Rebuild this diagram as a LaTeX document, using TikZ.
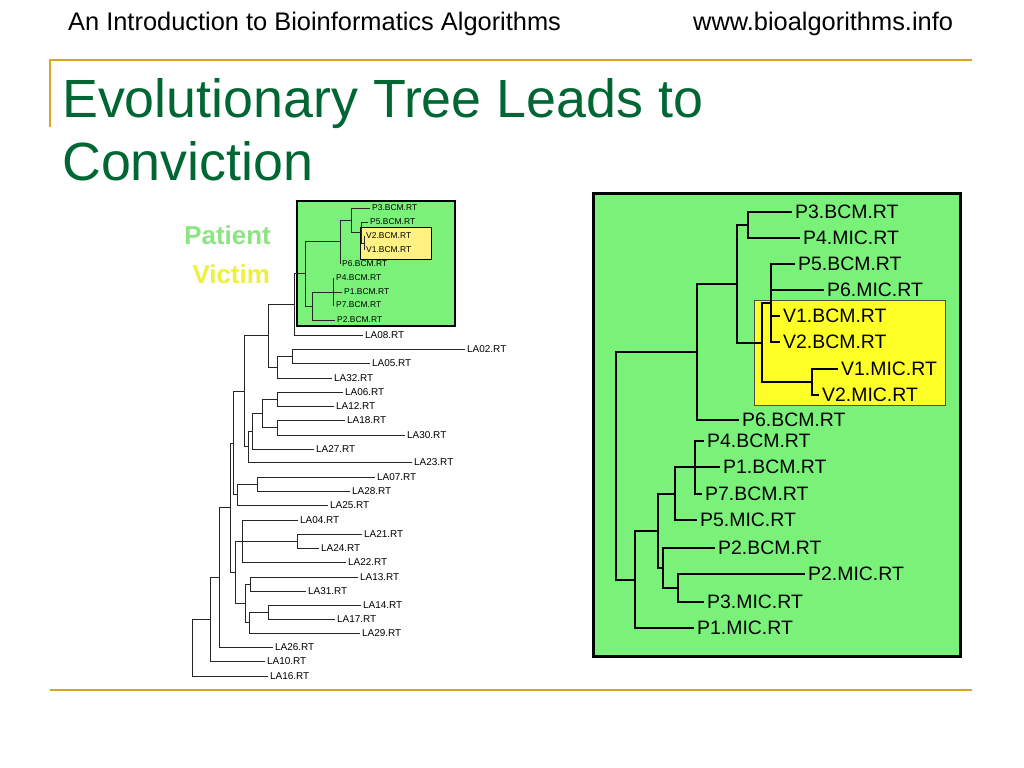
\documentclass[tikz,border=0pt]{standalone}
\usepackage{fontspec}
\setmainfont{Liberation Sans}
\definecolor{titleGreen}{RGB}{0,102,51}
\definecolor{ruleGold}{RGB}{218,165,32}
\definecolor{boxGreen}{RGB}{122,242,122}
\definecolor{boxYellow}{RGB}{255,255,40}
\definecolor{paleYellow}{RGB}{255,242,130}
\definecolor{patientGreen}{RGB}{140,228,130}
\definecolor{victimYellow}{RGB}{238,240,60}

\begin{document}
\begin{tikzpicture}[x=1bp,y=-1bp,%%
  headStyle/.style={anchor=base west,inner sep=0pt,font=\fontsize{25.5}{30}\selectfont},%%
  titleStyle/.style={anchor=base west,inner sep=0pt,text=titleGreen,font=\fontsize{54}{60}\selectfont},%%
  ruleStyle/.style={draw=ruleGold,line width=2bp},%%
  keyStyle/.style={anchor=base east,inner sep=0pt,font=\bfseries\fontsize{26}{30}\selectfont},%%
  smallLeaf/.style={anchor=west,inner sep=2bp,font=\fontsize{8.5}{9}\selectfont},%%
  laLeaf/.style={smallLeaf,font=\fontsize{10}{11}\selectfont},%%
  bigLeaf/.style={anchor=west,inner sep=3.5bp,font=\fontsize{19.5}{21}\selectfont},%%
  thinBranch/.style={draw=black!85,line width=0.8bp},%%
  thickBranch/.style={draw=black,line width=2bp}
]
%%
\useasboundingbox (0,0) rectangle (1024,768);
\fill[white] (0,0) rectangle (1024,768);
%%
%% Header, rules and title.
\node[headStyle] (head) at (68,31) {An Introduction to Bioinformatics Algorithms};
\node[headStyle] (site) at (693,31) {www.bioalgorithms.info};
\draw[ruleStyle] (50,127) -- (50,60) -- (972,60);
\draw[ruleStyle] (50,690) -- (972,690);
\node[titleStyle] (titleA) at (62,117) {Evolutionary Tree Leads to};
\node[titleStyle] (titleB) at (62,180) {Conviction};
%%
%% Key of the two colours.
\node[keyStyle,text=patientGreen] (patient) at (271,244) {Patient};
\node[keyStyle,text=victimYellow] (victim) at (270,283) {Victim};
%%
%% Boxes behind the trees.
\draw[fill=boxGreen,line width=1.5bp] (297,201) rectangle (455,326);
\draw[fill=paleYellow,line width=0.6bp] (360,227) rectangle (431,259);
\draw[fill=boxGreen,line width=3bp] (593,193) rectangle (960,656);
\draw[fill=boxYellow,draw=black!70,line width=0.8bp] (754,300) rectangle (945,405);
%%
%% Left tree: inner nodes.
\foreach \n/\x/\y in {lX/364/243, lW/361/232.5, lV/351/220, lT/340/241,
  lY/333/292, lU/312/306, lPC/305/273.5, lJ/294/304, lL/292/356, lK/277/367,
  lH/268/335.5, lMa/277/399, lMb/277/427.5, lM/262/413, lN/252/431,
  lI/248/446.5, lF/244/391, lO/257/484, lG/237/494.5, lD/233/443,
  lQa/297/541, lQ/242/541, lSa/250/584, lSc/268/612, lSb/249/622.5,
  lS/245/603, lE/235/572, lC/230/507.5, lB/219/577, lA/210/619, lR/192/647.5}
  \coordinate (\n) at (\x,\y);
\foreach \p/\c in {lW/lX, lV/lW, lT/lV, lPC/lT, lU/lY, lPC/lU, lJ/lPC, lH/lJ,
  lK/lL, lH/lK, lF/lH, lM/lMa, lM/lMb, lN/lM, lI/lN, lF/lI, lG/lO, lD/lG,
  lD/lF, lC/lD, lQ/lQa, lE/lQ, lS/lSa, lSb/lSc, lS/lSb, lE/lS, lC/lE,
  lB/lC, lA/lB, lR/lA}
  \draw[thinBranch] (\p) |- (\c);
%% Left tree: patient leaves.
\foreach \n/\x/\y/\t/\p in {lP3/372/208/P3.BCM.RT/lV, lP5/370/222/P5.BCM.RT/lW,
  lV2/366/236/V2.BCM.RT/lX, lV1/366/250/V1.BCM.RT/lX, lP6/342/264/P6.BCM.RT/lT,
  lP4/336/278/P4.BCM.RT/lY, lP1/344/292/P1.BCM.RT/lY, lP7/336/305/P7.BCM.RT/lY,
  lP2/337/320/P2.BCM.RT/lU}
{
  \node[smallLeaf] (\n) at (\x-2,\y) {\t};
  \draw[thinBranch] (\p) |- (\n.west);
}
%% Left tree: local leaves.
\foreach \n/\x/\y/\t/\p in {lLA08/365/335/LA08.RT/lJ, lLA02/467/349/LA02.RT/lL,
  lLA05/372/363/LA05.RT/lL, lLA32/334/378/LA32.RT/lK, lLA06/345/392/LA06.RT/lMa,
  lLA12/336/406/LA12.RT/lMa, lLA18/347/420/LA18.RT/lMb, lLA30/407/435/LA30.RT/lMb,
  lLA27/316/449/LA27.RT/lN, lLA23/414/462/LA23.RT/lI, lLA07/377/477/LA07.RT/lO,
  lLA28/352/491/LA28.RT/lO, lLA25/330/505/LA25.RT/lG, lLA04/300/520/LA04.RT/lQ,
  lLA21/364/534/LA21.RT/lQa, lLA24/321/548/LA24.RT/lQa, lLA22/348/562/LA22.RT/lQ,
  lLA13/360/577/LA13.RT/lSa, lLA31/308/591/LA31.RT/lSa, lLA14/363/605/LA14.RT/lSc,
  lLA17/337/619/LA17.RT/lSc, lLA29/362/633/LA29.RT/lSb, lLA26/275/647/LA26.RT/lB,
  lLA10/267/661/LA10.RT/lA, lLA16/270/676/LA16.RT/lR}
{
  \node[laLeaf] (\n) at (\x-2,\y) {\t};
  \draw[thinBranch] (\p) |- (\n.west);
}
%%
%% Right tree: inner nodes.
\foreach \n/\x/\y in {rA/748/225, rB/771/303, rC/812/382, rD/762/342.5,
  rE/737/284, rF/697/352, rK/695/467, rJ/675/494, rN/678/588, rM/663/568,
  rI/658/531, rH/635/579.5, rG/616/466}
  \coordinate (\n) at (\x,\y);
\foreach \p/\c in {rD/rB, rD/rC, rE/rA, rE/rD, rF/rE, rG/rF, rJ/rK, rM/rN,
  rI/rJ, rI/rM, rH/rI, rG/rH}
  \draw[thickBranch] (\p) |- (\c);
%% Right tree: leaves.
\foreach \n/\x/\y/\t/\p in {rP3/795/212/P3.BCM.RT/rA, rP4m/803/238/P4.MIC.RT/rA,
  rP5/798/264/P5.BCM.RT/rB, rP6m/827/290/P6.MIC.RT/rB, rV1/783/316/V1.BCM.RT/rB,
  rV2/783/342/V2.BCM.RT/rB, rV1m/841/369/V1.MIC.RT/rC, rV2m/822/395/V2.MIC.RT/rC,
  rP6/742/420/P6.BCM.RT/rF, rP4/707/441/P4.BCM.RT/rK, rP1/723/467/P1.BCM.RT/rK,
  rP7/705/494/P7.BCM.RT/rK, rP5m/700/520/P5.MIC.RT/rJ, rP2/718/548/P2.BCM.RT/rM,
  rP2m/808/574/P2.MIC.RT/rN, rP3m/707/602/P3.MIC.RT/rN, rP1m/697/628/P1.MIC.RT/rH}
{
  \node[bigLeaf] (\n) at (\x-3.5,\y) {\t};
  \draw[thickBranch] (\p) |- (\n.west);
}
\end{tikzpicture}
\end{document}
